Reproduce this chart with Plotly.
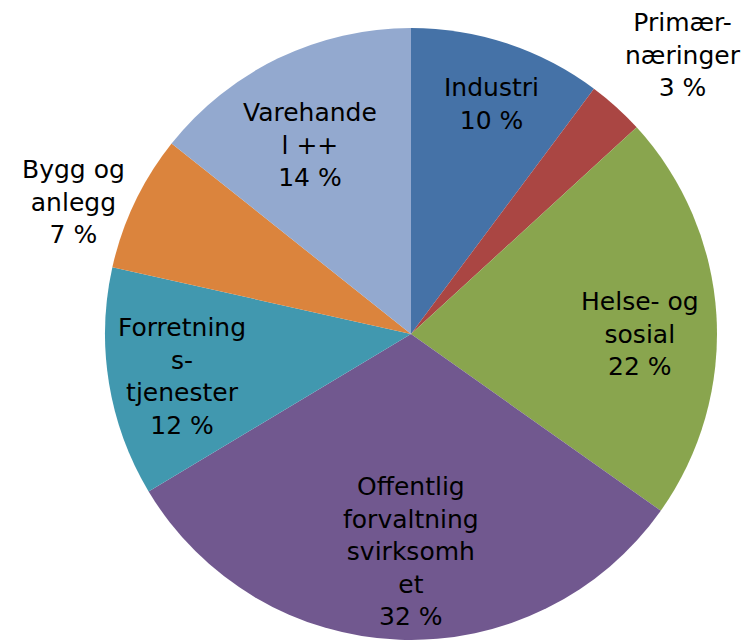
import plotly.graph_objects as go

categories = ["Industri", "Primærnæringer", "Helse- og sosial",
              "Offentlig forvaltningsvirksomhet", "Forretningstjenester",
              "Bygg og anlegg", "Varehandel ++"]
label_lines = ["Industri", "Primær-<br>næringer", "Helse- og<br>sosial",
               "Offentlig<br>forvaltning<br>svirksomh<br>et", "Forretning<br>s-<br>tjenester",
               "Bygg og<br>anlegg", "Varehande<br>l ++"]
values = [10.2, 3.0, 21.6, 31.6, 12.1, 7.2, 14.3]
colors = ["#4572A7", "#AA4643", "#89A54E", "#71588F", "#4198AF", "#DB843D", "#93A9CF"]

# label anchor positions (pixels in the 749x640 frame)
label_px = [(491, 104), (683, 55), (640, 334), (411, 551), (182, 376), (73, 202), (310, 145)]

W, H = 749, 640
R = 308
cx, cy = 411, 336

fig = go.Figure(go.Pie(
    labels=categories,
    values=values,
    sort=False,
    direction="clockwise",
    rotation=0,
    marker=dict(colors=colors, line=dict(width=0)),
    textinfo="none",
    hoverinfo="label+percent",
    showlegend=False,
    domain=dict(x=[(cx - R) / W, (cx + R) / W], y=[max(0, 1 - (cy + R) / H), 1 - (cy - R) / H]),
))

total = sum(values)
annotations = []
for txt, v, (px, py) in zip(label_lines, values, label_px):
    pct = int(v / total * 100 + 0.5)
    annotations.append(dict(
        text=f"{txt}<br>{pct} %", x=px / W, y=1 - py / H, xref="paper", yref="paper",
        showarrow=False, xanchor="center", yanchor="middle", align="center",
        font=dict(family="DejaVu Sans, Verdana, sans-serif", size=25, color="#000000"),
    ))

fig.update_layout(
    width=W, height=H,
    margin=dict(l=0, r=0, t=0, b=0),
    paper_bgcolor="white", plot_bgcolor="white",
    annotations=annotations,
)

fig.write_html("out.html", config={"displayModeBar": False},
               post_script="document.body.style.margin='0';document.body.style.overflow='hidden';")
